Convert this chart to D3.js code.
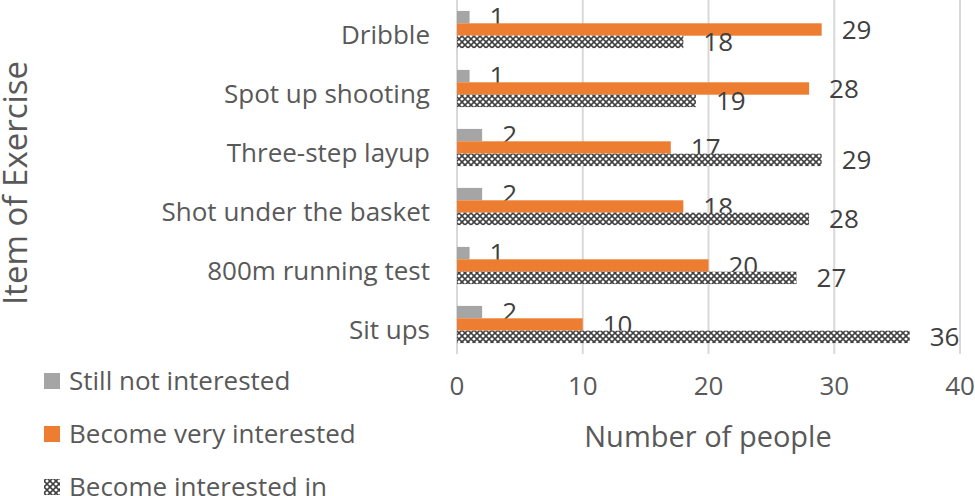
<!DOCTYPE html>
<html>
<head>
<meta charset="utf-8">
<script src="https://cdn.jsdelivr.net/npm/d3@7"></script>
<style>
  body { margin: 0; background: #fff; }
  text { font-family: "Open Sans", sans-serif; }
</style>
</head>
<body>
<div id="chart"></div>
<script>
var categories = ["Dribble", "Spot up shooting", "Three-step layup", "Shot under the basket", "800m running test", "Sit ups"];
var seriesNames = ["Still not interested", "Become very interested", "Become interested in"];
var stillNot = [1, 1, 2, 2, 1, 2];
var veryInterested = [29, 28, 17, 18, 20, 10];
var interestedIn = [18, 19, 29, 28, 27, 36];
var xTicks = [0, 10, 20, 30, 40];

var seriesValues = [stillNot, veryInterested, interestedIn];
var fills = ["#a5a5a5", "#ed7d31", "url(#cross)"];

var width = 975, height = 496;
var svg = d3.select("#chart").append("svg")
  .attr("width", width)
  .attr("height", height);

// hatch pattern for the third series
var pat = svg.append("defs").append("pattern")
  .attr("id", "cross")
  .attr("patternUnits", "userSpaceOnUse")
  .attr("width", 6).attr("height", 6);
pat.append("rect").attr("width", 6).attr("height", 6).attr("fill", "#ffffff");
pat.append("path")
  .attr("d", "M0,0 L3,3 L0,6 M6,0 L3,3 L6,6")
  .attr("stroke", "#404040").attr("stroke-width", 1.6).attr("fill", "none");

var plotLeft = 457, plotRight = 960, plotTop = 0, plotBottom = 354;

var x = d3.scaleLinear().domain([0, 40]).range([plotLeft, plotRight]);
var y = d3.scaleBand().domain(categories).range([plotTop, plotBottom])
  .paddingInner(0.37).paddingOuter(0.185);
var ySub = d3.scaleBand().domain([0, 1, 2]).range([0, y.bandwidth()]);

// gridlines
svg.append("g").selectAll("line")
  .data(xTicks)
  .enter().append("line")
  .attr("x1", d => x(d)).attr("x2", d => x(d))
  .attr("y1", plotTop).attr("y2", plotBottom)
  .attr("stroke", "#d9d9d9").attr("stroke-width", 2);

// x tick labels
svg.append("g").selectAll("text")
  .data(xTicks)
  .enter().append("text")
  .attr("x", d => x(d))
  .attr("y", 386)
  .attr("dy", "0.35em")
  .attr("text-anchor", "middle")
  .attr("fill", "#595959")
  .style("font-size", "26px")
  .text(d => d);

// category labels
svg.append("g").selectAll("text")
  .data(categories)
  .enter().append("text")
  .attr("x", 430)
  .attr("y", d => y(d) + y.bandwidth() / 2 + 5)
  .attr("dy", "0.35em")
  .attr("text-anchor", "end")
  .attr("fill", "#595959")
  .style("font-size", "26px")
  .text(d => d);

// bars + value labels
seriesValues.forEach(function(vals, s) {
  var g = svg.append("g");
  g.selectAll("rect")
    .data(vals)
    .enter().append("rect")
    .attr("x", x(0))
    .attr("y", (d, i) => y(categories[i]) + ySub(s))
    .attr("width", d => x(d) - x(0))
    .attr("height", ySub.bandwidth())
    .attr("fill", fills[s]);
  g.selectAll("text")
    .data(vals)
    .enter().append("text")
    .attr("x", d => x(d) + 20)
    .attr("y", (d, i) => y(categories[i]) + ySub(s) + ySub.bandwidth() / 2)
    .attr("dy", "0.35em")
    .attr("fill", "#404040")
    .style("font-size", "26px")
    .text(d => d);
});

// axis titles
svg.append("text")
  .attr("x", 708).attr("y", 437)
  .attr("dy", "0.35em")
  .attr("text-anchor", "middle")
  .attr("fill", "#595959")
  .style("font-size", "29px")
  .text("Number of people");

svg.append("text")
  .attr("transform", "translate(15,183) rotate(-90)")
  .attr("dy", "0.35em")
  .attr("text-anchor", "middle")
  .attr("fill", "#595959")
  .style("font-size", "33px")
  .text("Item of Exercise");

// legend
var legend = svg.append("g").selectAll("g")
  .data(seriesNames)
  .enter().append("g")
  .attr("transform", (d, i) => "translate(44," + (381 + i * 53) + ")");
legend.append("rect")
  .attr("x", 0).attr("y", -8)
  .attr("width", 16).attr("height", 16)
  .attr("fill", (d, i) => fills[i]);
legend.append("text")
  .attr("x", 25)
  .attr("dy", "0.35em")
  .attr("fill", "#595959")
  .style("font-size", "26px")
  .text(d => d);
</script>
</body>
</html>
